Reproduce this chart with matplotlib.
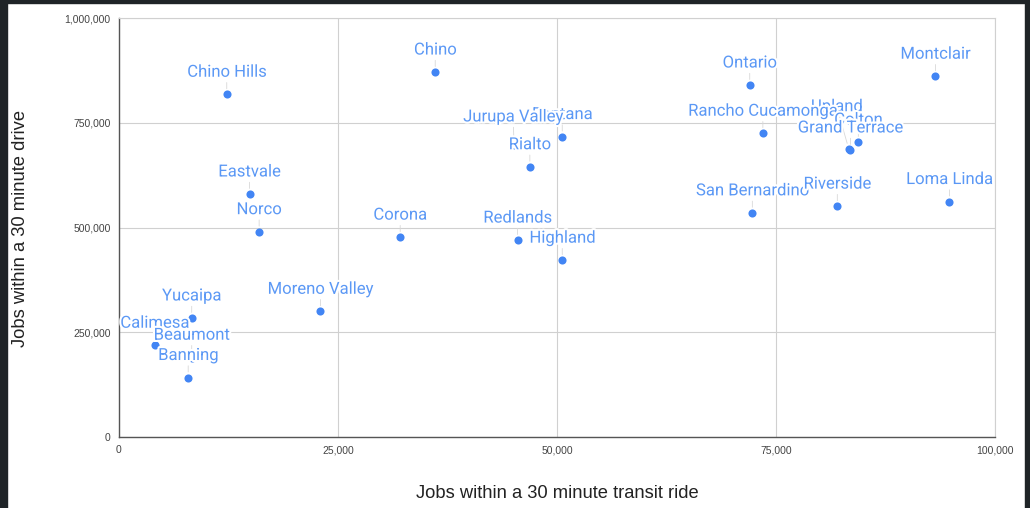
"""Scatter of city job access: transit vs. driving, with labelled points."""
import matplotlib.pyplot as plt
import matplotlib.patheffects as pe
from matplotlib.patches import Rectangle
from matplotlib.ticker import FuncFormatter

# Jobs reachable within 30 minutes, per city
cities = [
    "Chino Hills", "Chino", "Ontario", "Montclair", "Eastvale", "Norco",
    "Corona", "Moreno Valley", "Yucaipa", "Calimesa", "Beaumont", "Banning",
    "Fontana", "Jurupa Valley", "Rialto", "Redlands", "Highland",
    "Upland", "Rancho Cucamonga", "Colton", "Grand Terrace",
    "San Bernardino", "Riverside", "Loma Linda",
]
transit_jobs = [
    12300, 36100, 72000, 93200, 14900, 16000,
    32100, 23000, 8300, 4100, 8300, 7900,
    50600, 45100, 46900, 45500, 50600,
    83300, 73500, 84400, 83500,
    72300, 82000, 94800,
]
drive_jobs = [
    818000, 871000, 840000, 861000, 580000, 490000,
    477000, 300000, 284000, 219000, 188000, 142000,
    717000, 697000, 645000, 470000, 422000,
    688000, 725000, 704000, 685000,
    535000, 551000, 562000,
]

x_ticks = [0, 25000, 50000, 75000, 100000]
y_ticks = [0, 250000, 500000, 750000, 1000000]

# label placement (pixels above the point); a few are nudged
DEFAULT_OFFSET = (0, 22)
LABEL_OFFSETS = {
    "Jurupa Valley": (-1, 28),
    "Upland": (-12, 42),
    "Beaumont": (0, 23),
}

POINT_COLOR = "#4285f4"
LABEL_COLOR = "#5b98f5"
GRID_COLOR = "#d0d0d0"
FRAME_COLOR = "#1f2427"

W, H, DPI = 1030, 508, 100
fig = plt.figure(figsize=(W / DPI, H / DPI), dpi=DPI)
fig.patch.set_facecolor("white")

# dark screenshot edges
for x0, y0, w, h in [(0, 0, 7, H), (0, H - 3, W, 3), (1025, 0, 5, H)]:
    fig.patches.append(Rectangle((x0 / W, y0 / H), w / W, h / H,
                                 transform=fig.transFigure, color=FRAME_COLOR,
                                 zorder=10))

ax = fig.add_axes([119 / W, 1 - 437 / H, 876 / W, 419 / H])
ax.set_xlim(0, 100000)
ax.set_ylim(0, 1000000)

ax.scatter(transit_jobs, drive_jobs, s=34, color=POINT_COLOR, linewidths=0,
           zorder=3)

halo = [pe.withStroke(linewidth=3, foreground="white")]
for i, name in enumerate(cities):
    dx, dy = LABEL_OFFSETS.get(name, DEFAULT_OFFSET)
    ax.annotate(name, (transit_jobs[i], drive_jobs[i]),
                xytext=(dx, dy), textcoords="offset pixels",
                ha="center", va="center", fontsize=12, family="Roboto",
                color=LABEL_COLOR, path_effects=halo, zorder=4 + i * 0.01,
                arrowprops=dict(arrowstyle="-", color="#d8d8d8", lw=0.6,
                                shrinkA=0, shrinkB=4))

ax.set_xticks(x_ticks)
ax.set_yticks(y_ticks)
fmt = FuncFormatter(lambda v, _: f"{int(v):,}")
ax.xaxis.set_major_formatter(fmt)
ax.yaxis.set_major_formatter(fmt)
ax.tick_params(length=0, labelsize=7.5, labelcolor="#444444", pad=6)
for lbl in ax.get_xticklabels() + ax.get_yticklabels():
    lbl.set_family("Liberation Sans")

ax.grid(True, color=GRID_COLOR, lw=0.8, zorder=0)
ax.set_axisbelow(True)
for side in ("top", "right"):
    ax.spines[side].set_color(GRID_COLOR)
    ax.spines[side].set_linewidth(0.8)
for side in ("left", "bottom"):
    ax.spines[side].set_color("#555555")
    ax.spines[side].set_linewidth(1.0)

fig.text(557 / W, 1 - 494 / H, "Jobs within a 30 minute transit ride",
         ha="center", va="center", fontsize=13.2, family="Liberation Sans",
         color="#222222")
fig.text(21 / W, 1 - 228 / H, "Jobs within a 30 minute drive",
         ha="center", va="center", rotation=90, fontsize=13.2,
         family="Liberation Sans", color="#222222")

fig.savefig("out.png", dpi=DPI, facecolor="white")
